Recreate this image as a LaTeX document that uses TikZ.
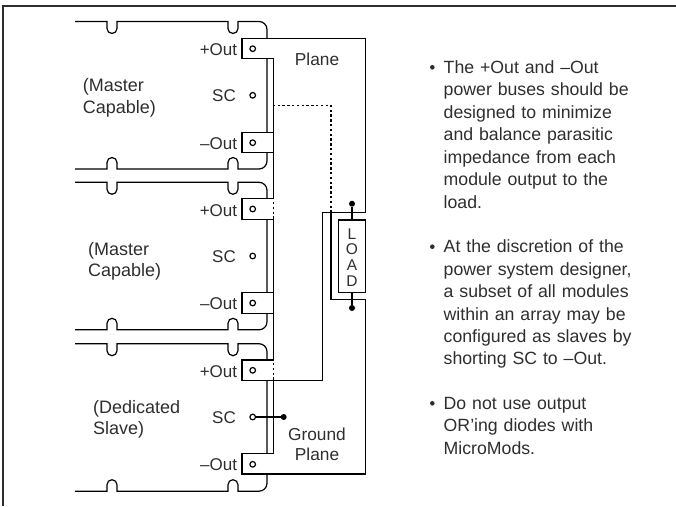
\documentclass[tikz,border=0pt]{standalone}
\usepackage{fontspec}
\setmainfont{Liberation Sans}
\usepackage{xcolor}
\usetikzlibrary{
  positioning,
  calc
}
\definecolor{txtgray}{HTML}{2E2E2E}

\begin{document}
\begin{tikzpicture}[
  x=1pt, y=-1pt,
  wire/.style={draw=black, line width=1.2pt, line join=miter},
  busline/.style={draw=black, line width=1.8pt},
  dotline/.style={draw=black, line width=1.2pt, dash pattern=on 2.4pt off 2.4pt},
  edgeline/.style={draw=txtgray, line width=2pt},
  lbl/.style={font=\fontsize{17.3}{20}\selectfont, text=txtgray, inner sep=0pt, align=center},
  modlbl/.style={anchor=base west, font=\fontsize{18}{21.5}\selectfont, text=txtgray, inner sep=0pt, align=left},
  pin/.style={anchor=base east, font=\fontsize{17}{21.5}\selectfont, text=txtgray, inner sep=0pt},
  letter/.style={anchor=base, font=\fontsize{15.5}{18}\selectfont, text=txtgray, inner sep=0pt},
  bullet/.style={anchor=base west, font=\fontsize{17.7}{22.45}\selectfont, text=txtgray, inner sep=0pt,
                 text width=205pt, align=left},
  mark dot/.style={circle, fill=txtgray, minimum size=4.6pt, inner sep=0pt},
  term/.style={circle, draw=black, fill=white, line width=1.2pt,
               minimum size=5.6pt, inner sep=0pt},
  junc/.style={circle, fill=black, minimum size=6pt, inner sep=0pt},
]
  \useasboundingbox (0,0) rectangle (676,506);

  % Frame
  \draw[edgeline] (3,506) -- (3,6) -- (676,6);

  % Module outlines
  \foreach \y in {21.5, 182.3, 343.7} {
    \draw[wire]
      (75,\y) -- (107,\y) -- ++(0,7)
        arc[start angle=180, end angle=360, x radius=5, y radius=-5] -- ++(0,-7)
      -- (228,\y) -- ++(0,7)
        arc[start angle=180, end angle=360, x radius=5, y radius=-5] -- ++(0,-7)
      -- (259,\y) arc[start angle=90, end angle=0, x radius=8, y radius=-8]
      -- ($(267,\y)+(0,139.5)$) arc[start angle=0, end angle=-90, x radius=8, y radius=-8]
      -- ($(238,\y)+(0,147.5)$) -- ++(0,-6.5)
        arc[start angle=0, end angle=180, x radius=5, y radius=-5] -- ++(0,6.5)
      -- ($(117,\y)+(0,147.5)$) -- ++(0,-6.5)
        arc[start angle=0, end angle=180, x radius=5, y radius=-5] -- ++(0,6.5)
      -- ($(75,\y)+(0,147.5)$);
  }

  % Output tabs
  \foreach \ya/\yb in {38.3/58.7, 132.3/152.7, 198.7/219.3, 292.7/313.3, 360/380.3, 453.7/474} {
    \fill[white] (242,\ya) rectangle (273.5,\yb);
  }
  \foreach \ya/\yb in {132.3/152.7, 198.7/219.3, 292.7/313.3} {
    \draw[wire] (273.5,\ya) -- (242,\ya) -- (242,\yb) -- (273.5,\yb);
  }

  % Plane
  \draw[wire] (273.5,58.7) -- (242,58.7) -- (242,38.3) -- (365.3,38.3) -- (365.3,212.7)
    -- (322.7,212.7) -- (322.7,380.3) -- (242,380.3) -- (242,360) -- (273.5,360);

  % Ground plane
  \draw[wire] (273.5,453.7) -- (242,453.7) -- (242,474) -- (365.3,474) -- (365.3,299.3)
    -- (331,299.3) -- (331,212.7);
  \draw[dotline] (331,212.7) -- (331,105.3) -- (273.5,105.3);

  % Bus edge
  \draw[busline] (273.5,58) -- (273.5,198.7);
  \draw[busline] (273.5,219.3) -- (273.5,360);
  \draw[busline] (273.5,380.3) -- (273.5,454.4);
  \draw[dotline, line width=1.8pt] (273.5,202) -- (273.5,219.3);
  \draw[dotline, line width=1.8pt] (273.5,363) -- (273.5,380.3);

  % Load
  \node[junc] (loadtop) at (352,203.7) {};
  \node[junc] (loadbot) at (352,308) {};
  \node[draw=black, line width=1.2pt, fill=white, minimum width=26.6pt, minimum height=72.3pt,
        inner sep=0pt] (load) at (352,256.2) {};
  \draw[wire] (loadtop) -- (load.north);
  \draw[wire] (load.south) -- (loadbot);
  \node[letter] (ll) at (352,239) {L};
  \node[letter] (lo) at (352,254.6) {O};
  \node[letter] (la) at (352,270.4) {A};
  \node[letter] (ld) at (352,286) {D};

  % Terminals
  \foreach \y/\n in {48.7/pa, 95.3/sa, 142.7/ma, 209/pb, 256/sb, 303/mb, 370.3/pc, 417/sc, 464.3/mc} {
    \node[term] (t\n) at (252.7,\y) {};
  }
  \foreach \y/\n in {55/a, 216/b, 377/c} {
    \node[pin] (po\n) at (237.3,\y) {+Out};
  }
  \foreach \y/\n in {101/a, 262/b, 423/c} {
    \node[pin] (sc\n) at (236,\y) {SC};
  }
  \foreach \y/\n in {149/a, 309/b, 470/c} {
    \node[pin] (mo\n) at (237.3,\y) {--Out};
  }

  % SC strap
  \node[junc] (strap) at (283.7,417) {};
  \draw[wire] (tsc) -- (strap);

  % Labels
  \node[lbl, anchor=base] (plane) at (317,65) {Plane};
  \node[lbl, anchor=base] (gnd) at (317,460) {Ground\\Plane};
  \node[modlbl] (m1) at (82.7,113) {(Master\\Capable)};
  \node[modlbl] (m2) at (88,276.7) {(Master\\Capable)};
  \node[modlbl] (m3) at (93,434.7) {(Dedicated\\Slave)};

  % Notes
  \node[bullet] (n1) at (443.5,73.3) {The +Out and --Out\\power buses should be\\designed to minimize\\and balance parasitic\\impedance from each\\module output to the\\load.};
  \node[bullet] (n2) at (443.5,252.7) {At the discretion of the\\power system designer,\\a subset of all modules\\within an array may be\\configured as slaves by\\shorting SC to --Out.};
  \node[bullet] (n3) at (443.5,409.3) {Do not use output\\OR'ing diodes with\\MicroMods.};
  \node[mark dot] (d1) at (432.3,67.3) {};
  \node[mark dot] (d2) at (432.3,246.7) {};
  \node[mark dot] (d3) at (432.3,403.3) {};
\end{tikzpicture}
\end{document}
